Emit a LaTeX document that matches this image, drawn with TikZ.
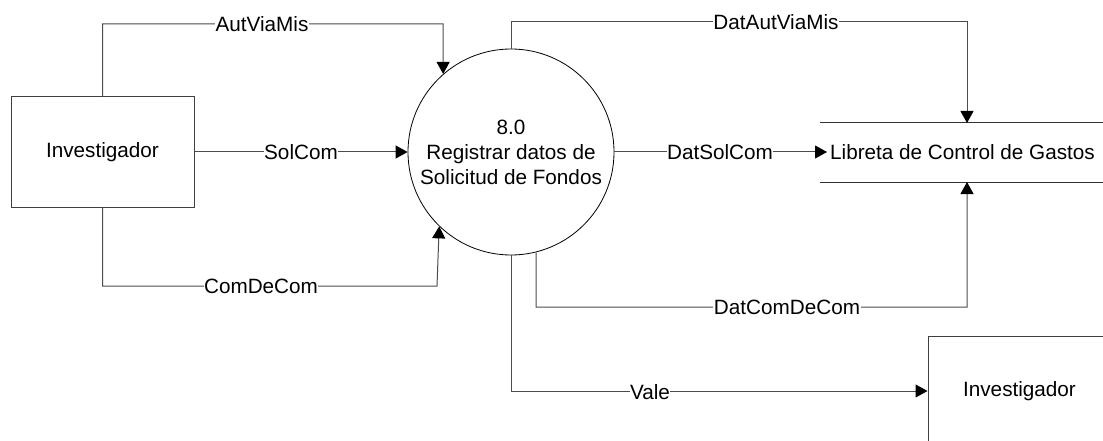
\documentclass[tikz,border=0pt]{standalone}
\usepackage{fontspec}
\setmainfont{Liberation Sans}
\usetikzlibrary{arrows.meta}
\begin{document}
\begin{tikzpicture}[x=1pt,y=-1pt,
  every node/.style={font=\fontsize{20.7}{25}\selectfont},
  entity/.style={draw=black!75, line width=1pt, minimum width=183pt, minimum height=110pt, inner sep=0pt},
  proc/.style={draw=black, line width=0.8pt, circle, minimum size=206pt, inner sep=0pt, align=center},
  flow/.style={draw=black!70, line width=1pt},
  arr/.style={flow, -{Triangle[length=12pt,width=13pt,color=black]}},
  lbl/.style={fill=white, inner xsep=0.5pt, inner ysep=1pt}
]
\useasboundingbox (0,0) rectangle (1103,441);
\clip (0,0) rectangle (1103,441);

% nodes
\node[entity] (inv1) at (102.5,152) {Investigador};
\node[proc] (proc) at (511,152) {8.0\\Registrar datos de\\Solicitud de Fondos};
\node[entity] (inv2) at (1019.5,391) {Investigador};
\node[anchor=west, inner xsep=3pt] (storelbl) at (827,152) {Libreta de Control de Gastos};
\coordinate (stl) at (820,123);
\coordinate (str) at (1110,123);
\coordinate (sbl) at (820,182);
\coordinate (sbr) at (1110,182);
\draw[black!80, line width=1pt] (stl) -- (str);
\draw[black!80, line width=1pt] (sbl) -- (sbr);
\coordinate (sT) at (967,123);
\coordinate (sB) at (967,182);

% bend points
\coordinate (a1) at (443,24);
\coordinate (c1) at (437,286);
\coordinate (d1) at (536,307);
\coordinate (e1) at (511,22);

% connectors
\draw[arr] (inv1.north) |- (a1) -- (proc.131);
\draw[arr] (inv1.east) -- (proc.west);
\draw[arr] (inv1.south) |- (c1) -- (proc.226);
\draw[arr] (proc.north) -- (e1) -| (sT);
\draw[arr] (proc.east) -- (storelbl.west);
\draw[arr] (proc.284) -- (d1) -| (sB);
\draw[arr] (proc.south) |- (inv2.west);

% labels
\node[lbl] (lAut) at (262,24) {AutViaMis};
\node[lbl] (lSol) at (301,152) {SolCom};
\node[lbl] (lCom) at (261,286) {ComDeCom};
\node[lbl] (lDAut) at (776,22) {DatAutViaMis};
\node[lbl] (lDSol) at (720,152) {DatSolCom};
\node[lbl] (lDCom) at (787,307) {DatComDeCom};
\node[lbl] (lVale) at (650,392) {Vale};
\end{tikzpicture}
\end{document}
